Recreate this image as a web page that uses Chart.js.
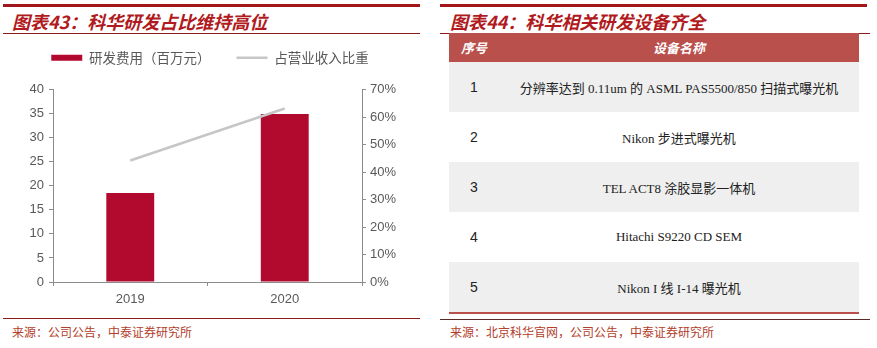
<!DOCTYPE html>
<html>
<head>
<meta charset="utf-8">
<script src="https://cdn.jsdelivr.net/npm/chart.js@4"></script>
<style>
  body { margin: 0; width: 877px; height: 348px; background: #fff; position: relative; overflow: hidden; font-family: "Noto Sans CJK SC", sans-serif; }
  .bar-top { position: absolute; height: 3px; background: #a3171c; }
  .rule { position: absolute; height: 1px; background: #8c1c1c; }
  .title { position: absolute; top: 8px; font-size: 18px; font-weight: bold; font-style: italic; color: #b01a20; white-space: nowrap; }
  .source { position: absolute; top: 323px; font-size: 12px; color: #b3402c; white-space: nowrap; }
  #chartBox { position: absolute; left: 0; top: 25px; width: 420px; height: 285px; }
  table { position: absolute; left: 449px; top: 33px; width: 410px; border-collapse: collapse; }
  th { background: #b9504c; color: #fff; height: 29px; font-size: 13px; font-weight: bold; font-style: italic; padding: 0; }
  td { height: 50px; padding: 0; text-align: center; color: #222; }
  td.num { font-family: "Liberation Sans", sans-serif; font-size: 14px; width: 50px; }
  td.name { font-family: "Liberation Serif", "Noto Sans CJK SC", serif; font-size: 13px; }
  tr.odd td { background: #efefef; }
  tr.last td { border-bottom: 2px solid #b9504c; }
</style>
</head>
<body>
  <div class="bar-top" style="left:3px; top:4px; width:417px;"></div>
  <div class="title" style="left:12px;">图表43：科华研发占比维持高位</div>
  <div class="rule" style="left:3px; top:33px; width:417px;"></div>
  <div id="chartBox"><canvas id="chartRd"></canvas></div>
  <div class="rule" style="left:3px; top:318px; width:417px;"></div>
  <div class="source" style="left:12px;">来源：公司公告，中泰证券研究所</div>

  <div class="bar-top" style="left:440px; top:4px; width:427px;"></div>
  <div class="title" style="left:450px;">图表44：科华相关研发设备齐全</div>
  <div class="rule" style="left:440px; top:33px; width:430px;"></div>
  <table id="equipTable"></table>
  <div class="rule" style="left:440px; top:319px; width:430px; background:#5a2a2a;"></div>
  <div class="source" style="left:450px;">来源：北京科华官网，公司公告，中泰证券研究所</div>

<script>
const years = ['2019', '2020']
const rdExpense = [18.5, 34.9]
const revenueShare = [44.2, 63.1]
const leftTicks = [0, 40, 5]
const rightTicks = [0, 70, 10]

const tableHeader = ['序号', '设备名称']
const equipIds = ['1', '2', '3', '4', '5']
const equipNames = [
  '分辨率达到 0.11um 的 ASML PAS5500/850 扫描式曝光机',
  'Nikon 步进式曝光机',
  'TEL ACT8 涂胶显影一体机',
  'Hitachi S9220 CD SEM',
  'Nikon I 线 I-14 曝光机'
]

function loadTable () {
  const table = document.getElementById('equipTable')
  let html = `<tr><th>${tableHeader[0]}</th><th>${tableHeader[1]}</th></tr>`
  equipIds.forEach((id, i) => {
    let cls = i % 2 === 0 ? 'odd' : ''
    if (i === equipIds.length - 1) cls += ' last'
    html += `<tr class="${cls}"><td class="num">${id}</td><td class="name">${equipNames[i]}</td></tr>`
  })
  table.innerHTML = html
}

const axisColor = '#8c8c8c'
const tickFont = { family: '"Liberation Sans", Arial, sans-serif', size: 13 }

// a bit more room between the legend and the plot
const legendGapPlugin = {
  id: 'legendGap',
  beforeInit: (chart) => {
    const fit = chart.legend.fit
    chart.legend.fit = function () {
      fit.call(this)
      this.height += 15
    }
  }
}

function loadChart () {
  new Chart(document.getElementById('chartRd'), {
    data: {
      labels: years,
      datasets: [
        {
          type: 'bar',
          label: '研发费用（百万元）',
          data: rdExpense,
          backgroundColor: '#b20a2f',
          barPercentage: 0.31,
          categoryPercentage: 1,
          yAxisID: 'y',
          order: 2
        },
        {
          type: 'line',
          label: '占营业收入比重',
          data: revenueShare,
          borderColor: '#c6c6c6',
          borderWidth: 2.5,
          pointRadius: 0,
          yAxisID: 'y1',
          order: 1
        }
      ]
    },
    options: {
      responsive: true,
      maintainAspectRatio: false,
      animation: false,
      layout: { padding: 0 },
      plugins: {
        tooltip: { enabled: false },
        legend: {
          position: 'top',
          labels: {
            usePointStyle: true,
            pointStyleWidth: 31,
            boxHeight: 6,
            padding: 26,
            color: '#595959',
            font: { family: '"Noto Sans CJK SC", sans-serif', size: 13.5 },
            generateLabels: (chart) => [
              { text: '研发费用（百万元）', fillStyle: '#b20a2f', strokeStyle: '#b20a2f', lineWidth: 0, pointStyle: 'rect', datasetIndex: 0, fontColor: '#595959' },
              { text: '占营业收入比重', fillStyle: '#c6c6c6', strokeStyle: '#c6c6c6', lineWidth: 2.5, pointStyle: 'line', datasetIndex: 1, fontColor: '#595959' }
            ]
          }
        }
      },
      scales: {
        x: {
          offset: true,
          grid: { offset: true, drawOnChartArea: false, drawTicks: true, tickLength: 4, color: axisColor },
          border: { color: axisColor },
          ticks: { color: '#595959', font: tickFont, padding: 6 },
          afterFit: (scale) => { scale.height = 28 }
        },
        y: {
          position: 'left',
          min: leftTicks[0],
          max: leftTicks[1],
          ticks: { stepSize: leftTicks[2], color: '#595959', font: tickFont, padding: 5 },
          grid: { drawOnChartArea: false, drawTicks: true, tickLength: 4, color: axisColor },
          border: { color: axisColor },
          afterFit: (scale) => { scale.width = 53 }
        },
        y1: {
          position: 'right',
          min: rightTicks[0],
          max: rightTicks[1],
          ticks: { stepSize: rightTicks[2], color: '#595959', font: tickFont, padding: 4, callback: (v) => v + '%' },
          grid: { drawOnChartArea: false, drawTicks: true, tickLength: 4, color: axisColor },
          border: { color: axisColor },
          afterFit: (scale) => { scale.width = 58 }
        }
      }
    },
    plugins: [legendGapPlugin]
  })
}

loadTable()
loadChart()
</script>
</body>
</html>
